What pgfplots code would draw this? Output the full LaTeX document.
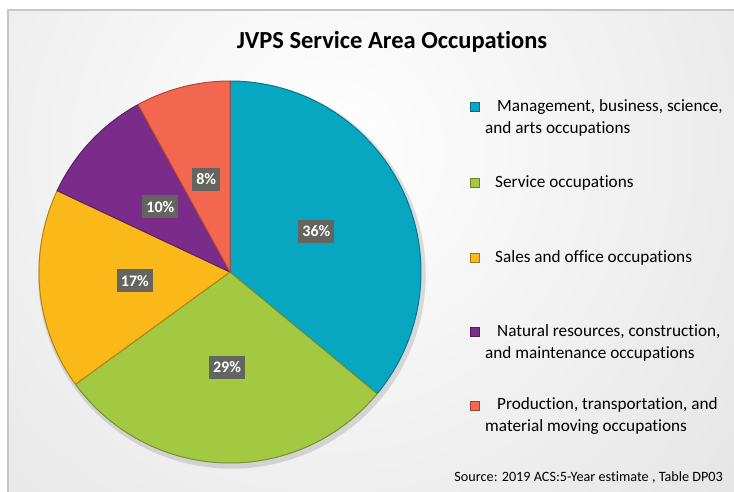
\documentclass[border=0pt]{standalone}
\usepackage{pgfplots}
\pgfplotsset{compat=1.18}
\usepackage{fontspec}
\setmainfont{Carlito}[RawFeature={-liga;-clig;-calt}]
\definecolor{cTeal}{HTML}{07A6C1}
\definecolor{cGreen}{HTML}{A3C943}
\definecolor{cOrange}{HTML}{FBB819}
\definecolor{cPurple}{HTML}{7B2C8B}
\definecolor{cRed}{HTML}{F36650}
\definecolor{lblgray}{HTML}{656560}
% shares in percent
\def\vA{36}\def\vB{29}\def\vC{17}\def\vD{10}\def\vE{8}
\pgfmathsetmacro\aA{90}
\pgfmathsetmacro\aB{\aA-3.6*\vA}
\pgfmathsetmacro\aC{\aB-3.6*\vB}
\pgfmathsetmacro\aD{\aC-3.6*\vC}
\pgfmathsetmacro\aE{\aD-3.6*\vD}
\pgfmathsetmacro\aF{\aE-3.6*\vE}
\newcommand\slice[4]{%
  \addplot[fill=#3, draw=#3!72!black, line width=1pt, line join=round,
    domain=#1:#2, samples=90, variable=\t]
    ({cos(\t)},{sin(\t)}) -- (axis cs:0,0) -- cycle;
}
\newcommand\slicelabel[3]{%
  \node[fill=lblgray, text=white, font=\bfseries\fontsize{16}{18}\selectfont,
    inner xsep=4pt, inner ysep=3pt, minimum height=23pt]
    at (axis cs:{0.5*cos((#1+#2)/2)},{0.5*sin((#1+#2)/2)}) {#3\%};
}
\begin{document}
\begin{tikzpicture}[x=1pt,y=1pt]
\path[use as bounding box] (0,0) rectangle (734,491);
\fill[white] (0,0) rectangle (734,491);
\begin{scope}
\clip (8,0) rectangle (734,481);
\shade[inner color=white, outer color=black!17] (330,340) circle (900);
\end{scope}
\draw[black!22, line width=1.5pt] (8,-3) rectangle (737,481);
\node[font=\bfseries\fontsize{24.5}{28}\selectfont] at (392,449) {JVPS Service Area Occupations};

\begin{axis}[at={(39pt,28pt)}, anchor=south west, width=382pt, height=382pt,
  scale only axis, xmin=-1, xmax=1, ymin=-1, ymax=1, hide axis, clip=false]
\addplot[fill=black, opacity=0.12, draw=none, domain=0:360, samples=120, variable=\t]
  ({1.015*cos(\t)+0.01},{1.015*sin(\t)-0.015}) -- cycle;
\slice{\aA}{\aB}{cTeal}{\vA}
\slice{\aB}{\aC}{cGreen}{\vB}
\slice{\aC}{\aD}{cOrange}{\vC}
\slice{\aD}{\aE}{cPurple}{\vD}
\slice{\aE}{\aF}{cRed}{\vE}
\slicelabel{\aA}{\aB}{\vA}
\slicelabel{\aB}{\aC}{\vB}
\slicelabel{\aC}{\aD}{\vC}
\slicelabel{\aD}{\aE}{\vD}
\slicelabel{\aE}{\aF}{\vE}
\end{axis}

% legend
\tikzset{lgm/.style={minimum size=8.5pt, inner sep=0pt, draw=#1!65!black, line width=1pt, fill=#1},
  lgt/.style={anchor=west, align=left, font=\fontsize{17.2}{22}\selectfont, inner sep=0pt}}
\node[lgm=cTeal] at (475,384) {};
\node[lgt] at (485,373) {\hspace{12pt}Management, business, science,\\and arts occupations};
\node[lgm=cGreen] at (475,308) {};
\node[lgt] at (485,308) {\hspace{10pt}Service occupations};
\node[lgm=cOrange] at (475,233) {};
\node[lgt] at (485,233) {\hspace{10pt}Sales and office occupations};
\node[lgm=cPurple] at (475,159) {};
\node[lgt] at (485,148.5) {\hspace{12pt}Natural resources, construction,\\and maintenance occupations};
\node[lgm=cRed] at (475,85) {};
\node[lgt] at (485,74.5) {\hspace{12pt}Production, transportation, and\\material moving occupations};
\node[anchor=east, font=\fontsize{14.2}{16}\selectfont, inner sep=0pt] at (723,14) {Source: 2019 ACS:5-Year estimate , Table DP03};
\end{tikzpicture}
\end{document}
